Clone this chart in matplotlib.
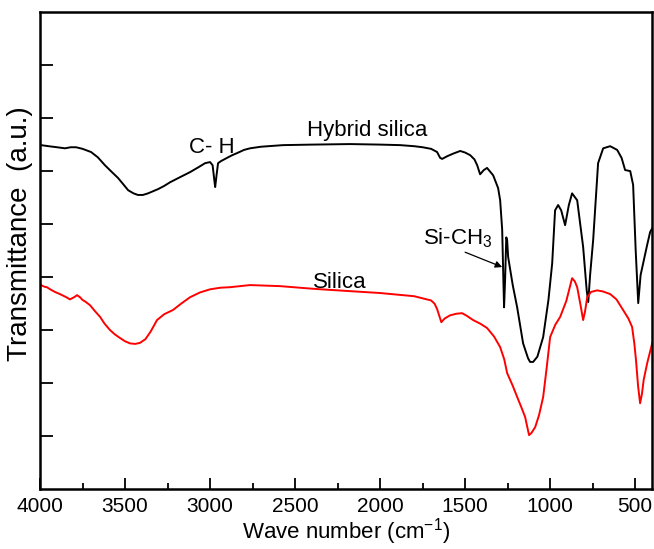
import matplotlib
matplotlib.use("Agg")
import matplotlib.pyplot as plt
from matplotlib.ticker import MultipleLocator, NullFormatter

plt.rcParams['font.family'] = ['Liberation Sans', 'DejaVu Sans']
plt.rcParams['mathtext.default'] = 'regular'

# hybrid silica (black) - wavenumber / transmittance (arbitrary units)
hyb_wn = [3994, 3950, 3900, 3853, 3820, 3788, 3750, 3700, 3660, 3618, 3580,
          3541, 3510, 3482, 3450, 3424, 3395, 3365, 3306, 3270, 3235, 3180,
          3118, 3070, 3029, 3000, 2985, 2975, 2970, 2962, 2953, 2935, 2900,
          2870, 2841, 2800, 2765, 2700, 2571, 2400, 2176, 2000, 1882, 1800,
          1750, 1700, 1665, 1647, 1635, 1606, 1570, 1529, 1500, 1470, 1445,
          1429, 1412, 1390, 1371, 1335, 1306, 1294, 1282, 1275, 1271, 1265,
          1258, 1253, 1247, 1220, 1194, 1159, 1130, 1118, 1100, 1075, 1041,
          1010, 988, 971, 953, 935, 912, 890, 871, 841, 806, 785, 776, 765,
          747, 718, 688, 647, 606, 580, 559, 529, 512, 497, 482, 468, 453,
          430, 412, 400]
hyb_t = [6.49, 6.47, 6.45, 6.43, 6.45, 6.45, 6.42, 6.36, 6.26, 6.11, 5.99,
         5.87, 5.75, 5.64, 5.58, 5.55, 5.55, 5.58, 5.66, 5.72, 5.79, 5.88,
         5.98, 6.07, 6.15, 6.17, 6.11, 5.83, 5.70, 5.92, 6.15, 6.19, 6.25,
         6.30, 6.34, 6.40, 6.43, 6.46, 6.49, 6.50, 6.51, 6.50, 6.49, 6.47,
         6.45, 6.42, 6.36, 6.25, 6.23, 6.28, 6.33, 6.38, 6.35, 6.30, 6.22,
         6.11, 5.94, 6.02, 6.06, 5.92, 5.68, 5.45, 4.89, 3.94, 3.43, 3.94,
         4.75, 4.70, 4.38, 3.85, 3.43, 2.75, 2.47, 2.40, 2.40, 2.50, 2.87,
         3.57, 4.26, 5.26, 5.36, 5.26, 4.98, 5.36, 5.58, 5.45, 4.57, 3.75,
         3.53, 4.04, 4.70, 6.15, 6.43, 6.47, 6.40, 6.25, 6.02, 6.00, 5.74,
         4.51, 3.51, 4.04, 4.26, 4.60, 4.85, 4.92]

# silica (red)
sil_wn = [3995, 3975, 3960, 3935, 3912, 3890, 3870, 3845, 3824, 3800, 3782,
          3765, 3750, 3730, 3706, 3680, 3647, 3620, 3588, 3560, 3529, 3500,
          3471, 3440, 3412, 3380, 3350, 3312, 3270, 3218, 3170, 3118, 3060,
          3000, 2940, 2882, 2765, 2588, 2394, 2200, 2000, 1800, 1700, 1680,
          1665, 1650, 1640, 1620, 1588, 1550, 1518, 1490, 1453, 1410, 1371,
          1330, 1294, 1270, 1253, 1220, 1194, 1170, 1147, 1135, 1124, 1110,
          1088, 1065, 1041, 1020, 1000, 970, 941, 905, 871, 855, 841, 820,
          806, 795, 782, 760, 724, 690, 647, 610, 571, 540, 518, 505, 495,
          483, 471, 460, 450, 429, 400]
sil_t = [3.85, 3.82, 3.81, 3.76, 3.72, 3.69, 3.66, 3.62, 3.58, 3.62, 3.66,
         3.62, 3.57, 3.53, 3.47, 3.37, 3.25, 3.12, 3.00, 2.92, 2.85, 2.79,
         2.75, 2.74, 2.76, 2.83, 2.97, 3.19, 3.30, 3.38, 3.50, 3.62, 3.71,
         3.77, 3.80, 3.81, 3.85, 3.83, 3.78, 3.74, 3.70, 3.64, 3.56, 3.50,
         3.40, 3.25, 3.15, 3.22, 3.28, 3.31, 3.32, 3.27, 3.19, 3.12, 3.04,
         2.88, 2.68, 2.45, 2.19, 1.95, 1.74, 1.55, 1.36, 1.18, 1.02, 1.06,
         1.17, 1.40, 1.74, 2.30, 2.87, 3.10, 3.25, 3.55, 3.98, 3.92, 3.81,
         3.45, 3.19, 3.35, 3.62, 3.72, 3.75, 3.73, 3.68, 3.58, 3.38, 3.22,
         3.06, 2.75, 2.43, 1.95, 1.62, 1.80, 2.06, 2.38, 2.75]

fig = plt.figure(figsize=(6.54, 5.49), dpi=100)
ax = fig.add_axes([0.0612, 0.109, 0.936, 0.869])

ax.plot(hyb_wn, hyb_t, color='black', lw=1.4)
ax.plot(sil_wn, sil_t, color='red', lw=1.4)

ax.set_xlim(4000, 400)
ax.set_ylim(0, 9)
ax.xaxis.set_major_locator(MultipleLocator(500))
ax.xaxis.set_minor_locator(MultipleLocator(250))
ax.set_yticks(range(1, 9))
ax.yaxis.set_major_formatter(NullFormatter())
ax.tick_params(direction='in', width=1.3, labelsize=15)
ax.tick_params(axis='x', which='major', length=8, pad=6)
ax.tick_params(axis='x', which='minor', length=4.5, width=1.3, direction='in')
ax.tick_params(axis='y', length=9)
for s in ax.spines.values():
    s.set_linewidth(1.8)

ax.set_xlabel('Wave number (cm$^{-1}$)', fontsize=16, labelpad=0)
ax.set_ylabel('Transmittance  (a.u.)', fontsize=20)
ax.yaxis.set_label_coords(-0.012, 0.535)

ax.text(2988, 6.45, 'C- H', fontsize=16, ha='center', va='center')
ax.text(2076, 6.77, 'Hybrid silica', fontsize=16, ha='center', va='center')
ax.text(2235, 3.89, 'Silica', fontsize=16, ha='center', va='center')
ax.text(1541, 4.74, 'Si-CH$_3$', fontsize=16, ha='center', va='center')
ax.annotate('', xy=(1282, 4.19), xytext=(1500, 4.47),
            arrowprops=dict(arrowstyle='-|>', color='black', lw=0.9,
                            shrinkA=0, shrinkB=0, mutation_scale=10))

fig.savefig('out.png', dpi=100)
